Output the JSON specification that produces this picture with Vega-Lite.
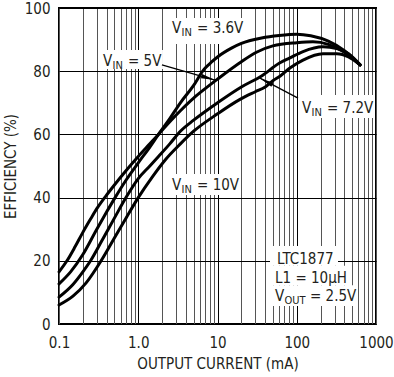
{
  "$schema": "https://vega.github.io/schema/vega-lite/v6.json",
  "width": 317,
  "height": 316,
  "autosize": {"type": "none"},
  "padding": {"left": 59, "top": 8, "right": 18, "bottom": 53},
  "background": "white",
  "config": {
    "font": "Liberation Sans Narrow, DejaVu Sans Condensed, sans-serif",
    "view": {"stroke": "black", "strokeWidth": 2},
    "axis": {
      "domain": false,
      "ticks": false,
      "labelFontSize": 15,
      "labelColor": "#231f20",
      "titleFontSize": 15,
      "titleFontWeight": "normal",
      "titleColor": "#231f20",
      "labelOverlap": false,
      "labelFlush": false
    }
  },
  "datasets": {
    "curves": [
      {"s": "3.6V", "x": 0.1, "y": 12.7}, {"s": "3.6V", "x": 0.14, "y": 16.5}, {"s": "3.6V", "x": 0.2, "y": 22}, {"s": "3.6V", "x": 0.3, "y": 30}, {"s": "3.6V", "x": 0.4, "y": 35.5}, {"s": "3.6V", "x": 0.51, "y": 40}, {"s": "3.6V", "x": 0.7, "y": 45.5}, {"s": "3.6V", "x": 1.0, "y": 51}, {"s": "3.6V", "x": 1.4, "y": 56}, {"s": "3.6V", "x": 1.8, "y": 60}, {"s": "3.6V", "x": 2.5, "y": 65}, {"s": "3.6V", "x": 3.4, "y": 70}, {"s": "3.6V", "x": 5, "y": 75.5}, {"s": "3.6V", "x": 6.5, "y": 80}, {"s": "3.6V", "x": 7, "y": 81}, {"s": "3.6V", "x": 8.5, "y": 83}, {"s": "3.6V", "x": 10, "y": 84.5}, {"s": "3.6V", "x": 15, "y": 87.3}, {"s": "3.6V", "x": 20, "y": 88.8}, {"s": "3.6V", "x": 36, "y": 90.5}, {"s": "3.6V", "x": 60, "y": 91.3}, {"s": "3.6V", "x": 100, "y": 91.7}, {"s": "3.6V", "x": 150, "y": 91.2}, {"s": "3.6V", "x": 250, "y": 89.5}, {"s": "3.6V", "x": 400, "y": 86.5}, {"s": "3.6V", "x": 630, "y": 82},
      {"s": "5V", "x": 0.1, "y": 16.5}, {"s": "5V", "x": 0.126, "y": 20}, {"s": "5V", "x": 0.16, "y": 24.5}, {"s": "5V", "x": 0.2, "y": 29}, {"s": "5V", "x": 0.25, "y": 33.2}, {"s": "5V", "x": 0.3, "y": 36.5}, {"s": "5V", "x": 0.39, "y": 40.5}, {"s": "5V", "x": 0.5, "y": 44}, {"s": "5V", "x": 0.7, "y": 48.5}, {"s": "5V", "x": 1.0, "y": 53}, {"s": "5V", "x": 1.4, "y": 57}, {"s": "5V", "x": 1.8, "y": 60}, {"s": "5V", "x": 2.5, "y": 64}, {"s": "5V", "x": 3.4, "y": 67.5}, {"s": "5V", "x": 5, "y": 71.5}, {"s": "5V", "x": 7, "y": 74.5}, {"s": "5V", "x": 10, "y": 77.5}, {"s": "5V", "x": 20, "y": 83}, {"s": "5V", "x": 31, "y": 86}, {"s": "5V", "x": 50, "y": 88}, {"s": "5V", "x": 100, "y": 89}, {"s": "5V", "x": 160, "y": 89.3}, {"s": "5V", "x": 250, "y": 88.5}, {"s": "5V", "x": 400, "y": 86}, {"s": "5V", "x": 630, "y": 82},
      {"s": "7.2V", "x": 0.1, "y": 8.5}, {"s": "7.2V", "x": 0.15, "y": 12.5}, {"s": "7.2V", "x": 0.2, "y": 16.5}, {"s": "7.2V", "x": 0.25, "y": 20}, {"s": "7.2V", "x": 0.35, "y": 26.5}, {"s": "7.2V", "x": 0.5, "y": 33.5}, {"s": "7.2V", "x": 0.7, "y": 40}, {"s": "7.2V", "x": 1.0, "y": 46}, {"s": "7.2V", "x": 1.4, "y": 50}, {"s": "7.2V", "x": 1.8, "y": 53}, {"s": "7.2V", "x": 2.5, "y": 57}, {"s": "7.2V", "x": 3.4, "y": 61}, {"s": "7.2V", "x": 5, "y": 64.5}, {"s": "7.2V", "x": 10, "y": 70}, {"s": "7.2V", "x": 20, "y": 75}, {"s": "7.2V", "x": 36, "y": 78.5}, {"s": "7.2V", "x": 60, "y": 82.5}, {"s": "7.2V", "x": 82, "y": 84.2}, {"s": "7.2V", "x": 120, "y": 86.2}, {"s": "7.2V", "x": 214, "y": 87.7}, {"s": "7.2V", "x": 320, "y": 87.2}, {"s": "7.2V", "x": 450, "y": 85.5}, {"s": "7.2V", "x": 630, "y": 82},
      {"s": "10V", "x": 0.1, "y": 6}, {"s": "10V", "x": 0.15, "y": 8.8}, {"s": "10V", "x": 0.22, "y": 13}, {"s": "10V", "x": 0.34, "y": 20}, {"s": "10V", "x": 0.5, "y": 27.2}, {"s": "10V", "x": 0.7, "y": 33.5}, {"s": "10V", "x": 1.0, "y": 40}, {"s": "10V", "x": 1.5, "y": 46.5}, {"s": "10V", "x": 2.2, "y": 52}, {"s": "10V", "x": 3.4, "y": 57}, {"s": "10V", "x": 5, "y": 61}, {"s": "10V", "x": 10, "y": 66.5}, {"s": "10V", "x": 19, "y": 71}, {"s": "10V", "x": 30, "y": 73.5}, {"s": "10V", "x": 40, "y": 75}, {"s": "10V", "x": 50, "y": 77}, {"s": "10V", "x": 62, "y": 78.5}, {"s": "10V", "x": 82, "y": 81}, {"s": "10V", "x": 120, "y": 83.5}, {"s": "10V", "x": 214, "y": 85.5}, {"s": "10V", "x": 320, "y": 85.5}, {"s": "10V", "x": 450, "y": 84.5}, {"s": "10V", "x": 630, "y": 82}
    ],
    "boxes": [
      {"x": 2.37, "x2": 22.9, "y": 96.8, "y2": 88.6},
      {"x": 0.32, "x2": 2.05, "y": 86.7, "y2": 80.7},
      {"x": 103.8, "x2": 950, "y": 72.5, "y2": 65.2},
      {"x": 2.37, "x2": 19.2, "y": 47.5, "y2": 40.8},
      {"x": 45.97, "x2": 331.6, "y": 24.7, "y2": 18.4},
      {"x": 45.97, "x2": 470, "y": 18.4, "y2": 12.3},
      {"x": 45.97, "x2": 593, "y": 12.3, "y2": 5.7}
    ],
    "arrows": [
      {"name": "5V", "x": 1.99, "y": 82.0, "x2": 9.29, "y2": 77.2},
      {"name": "7.2V", "x": 103.8, "y": 71.5, "x2": 34.4, "y2": 77.8}
    ],
    "labels": [
      {"v": "V", "sub": "IN", "rest": "= 3.6V", "x": 2.67, "y": 92.1},
      {"v": "V", "sub": "IN", "rest": "= 5V", "x": 0.359, "y": 81.6},
      {"v": "V", "sub": "IN", "rest": "= 7.2V", "x": 116.4, "y": 66.8},
      {"v": "V", "sub": "IN", "rest": "= 10V", "x": 2.67, "y": 42.4},
      {"v": "V", "sub": "OUT", "rest": "= 2.5V", "x": 53.2, "y": 7.3}
    ],
    "notes": [
      {"t": "LTC1877", "x": 56.4, "y": 19.0},
      {"t": "L1 = 10µH", "x": 53.2, "y": 13.0}
    ]
  },
  "encoding": {
    "x": {
      "field": "x",
      "type": "quantitative",
      "scale": {"type": "log", "domain": [0.1, 1000], "nice": false},
      "axis": {
        "title": "OUTPUT CURRENT (mA)",
        "values": [0.1, 0.2, 0.3, 0.4, 0.5, 0.6, 0.7, 0.8, 0.9, 1, 2, 3, 4, 5, 6, 7, 8, 9, 10, 20, 30, 40, 50, 60, 70, 80, 90, 100, 200, 300, 400, 500, 600, 700, 800, 900, 1000],
        "labelExpr": "datum.value == 0.1 ? '0.1' : datum.value == 1 ? '1.0' : (datum.value == 10 || datum.value == 100 || datum.value == 1000) ? format(datum.value, 'd') : ''",
        "grid": true,
        "gridColor": {"condition": {"test": "datum.value == 1 || datum.value == 10 || datum.value == 100", "value": "#000000"}, "value": "#555555"},
        "gridWidth": 1,
        "labelPadding": 11,
        "titlePadding": 6
      }
    },
    "y": {
      "field": "y",
      "type": "quantitative",
      "scale": {"domain": [0, 100], "nice": false},
      "axis": {
        "title": "EFFICIENCY (%)",
        "values": [0, 20, 40, 60, 80, 100],
        "grid": true,
        "gridColor": "#000000",
        "gridWidth": 1,
        "labelPadding": 9,
        "titlePadding": 6
      }
    }
  },
  "layer": [
    {
      "data": {"name": "boxes"},
      "mark": {"type": "rect", "fill": "white"},
      "encoding": {"x2": {"field": "x2"}, "y2": {"field": "y2"}}
    },
    {
      "data": {"name": "curves"},
      "mark": {"type": "line", "color": "black", "strokeWidth": 3, "interpolate": "monotone", "strokeCap": "round"},
      "encoding": {"detail": {"field": "s"}}
    },
    {
      "data": {"name": "arrows"},
      "mark": {"type": "rule", "color": "black", "strokeWidth": 1.3},
      "encoding": {"x2": {"field": "x2"}, "y2": {"field": "y2"}}
    },
    {
      "data": {"name": "arrows"},
      "transform": [{"filter": "datum.name == '5V'"}],
      "mark": {"type": "point", "shape": "M0,0L0.32,2L-0.32,2Z", "filled": true, "color": "black", "opacity": 1, "size": 196, "angle": 106},
      "encoding": {"x": {"field": "x2", "type": "quantitative"}, "y": {"field": "y2", "type": "quantitative"}}
    },
    {
      "data": {"name": "arrows"},
      "transform": [{"filter": "datum.name == '7.2V'"}],
      "mark": {"type": "point", "shape": "M0,0L0.32,2L-0.32,2Z", "filled": true, "color": "black", "opacity": 1, "size": 196, "angle": 298},
      "encoding": {"x": {"field": "x2", "type": "quantitative"}, "y": {"field": "y2", "type": "quantitative"}}
    },
    {
      "data": {"name": "labels"},
      "mark": {"type": "text", "align": "left", "baseline": "alphabetic", "fontSize": 15, "color": "#231f20"},
      "encoding": {"text": {"field": "v"}}
    },
    {
      "data": {"name": "labels"},
      "mark": {"type": "text", "align": "left", "baseline": "alphabetic", "fontSize": 11, "dx": 9.5, "dy": 3, "color": "#231f20"},
      "encoding": {"text": {"field": "sub"}}
    },
    {
      "data": {"name": "labels"},
      "transform": [{"filter": "datum.sub == 'IN'"}],
      "mark": {"type": "text", "align": "left", "baseline": "alphabetic", "fontSize": 15, "dx": 25, "color": "#231f20"},
      "encoding": {"text": {"field": "rest"}}
    },
    {
      "data": {"name": "labels"},
      "transform": [{"filter": "datum.sub == 'OUT'"}],
      "mark": {"type": "text", "align": "left", "baseline": "alphabetic", "fontSize": 15, "dx": 35, "color": "#231f20"},
      "encoding": {"text": {"field": "rest"}}
    },
    {
      "data": {"name": "notes"},
      "mark": {"type": "text", "align": "left", "baseline": "alphabetic", "fontSize": 15, "color": "#231f20"},
      "encoding": {"text": {"field": "t"}}
    }
  ]
}
